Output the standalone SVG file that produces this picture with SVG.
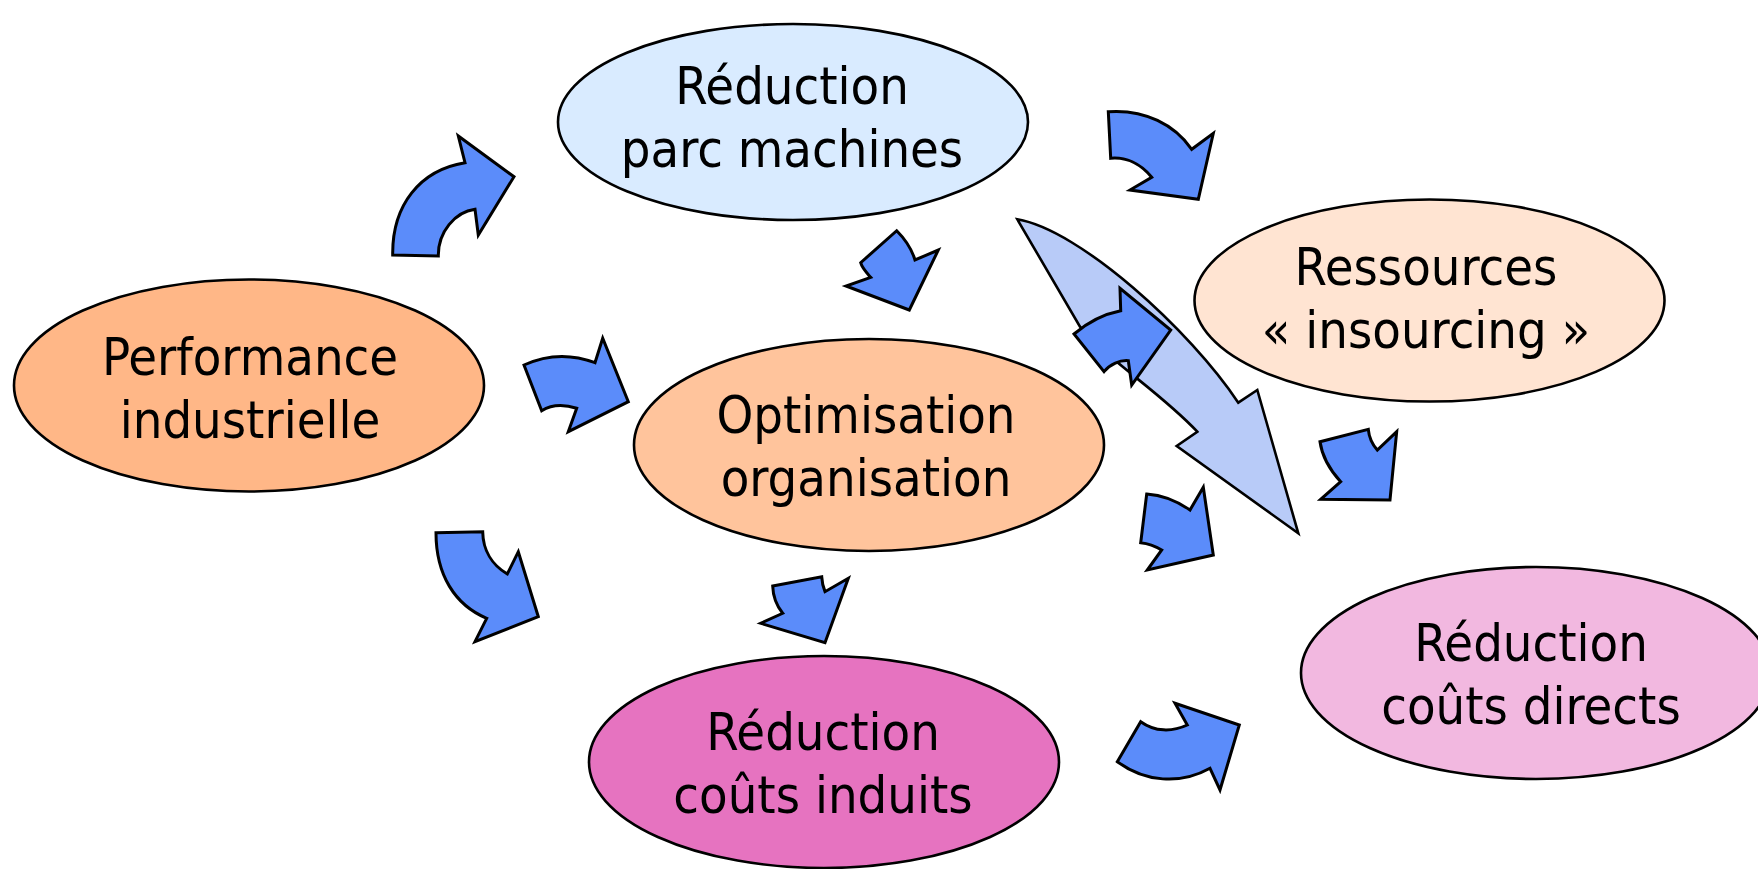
<svg xmlns="http://www.w3.org/2000/svg" width="1758" height="869" viewBox="0 0 1758 869">
  <style>
    .node { stroke: #000; stroke-width: 2.6; }
    .label { font-family: "DejaVu Sans Condensed", "DejaVu Sans", sans-serif; font-stretch: condensed; font-size: 52px; fill: #000; text-anchor: middle; }
    .arrow { fill: #5B8CFA; stroke: #000; stroke-width: 3; stroke-linejoin: miter; }
    .arrow-big { fill: #B8CBF8; stroke: #000; stroke-width: 2.6; stroke-linejoin: miter; }
  </style>
  <rect width="1758" height="869" fill="#fff"/>

  <g id="node-performance">
    <ellipse class="node" cx="249" cy="385.5" rx="235" ry="106" fill="#FFB787"/>
    <text class="label" x="250" y="375">Performance</text>
    <text class="label" x="250" y="438">industrielle</text>
  </g>

  <g id="node-parc-machines">
    <ellipse class="node" cx="793" cy="122" rx="235" ry="98" fill="#D9EBFF"/>
    <text class="label" x="792" y="104">Réduction</text>
    <text class="label" x="792" y="167">parc machines</text>
  </g>

  <g id="node-organisation">
    <ellipse class="node" cx="869" cy="445" rx="235" ry="106" fill="#FFC49C"/>
    <text class="label" x="866" y="433">Optimisation</text>
    <text class="label" x="866" y="496">organisation</text>
  </g>

  <g id="node-ressources">
    <ellipse class="node" cx="1429.5" cy="300.5" rx="235" ry="101" fill="#FFE4D2"/>
    <text class="label" x="1426" y="285">Ressources</text>
    <text class="label" x="1426" y="348">« insourcing »</text>
  </g>

  <g id="node-couts-induits">
    <ellipse class="node" cx="824" cy="762" rx="235" ry="106" fill="#E673C0"/>
    <text class="label" x="823" y="750">Réduction</text>
    <text class="label" x="823" y="813">coûts induits</text>
  </g>

  <g id="node-couts-directs">
    <ellipse class="node" cx="1536" cy="673" rx="235" ry="106" fill="#F2B8E0"/>
    <text class="label" x="1531" y="661">Réduction</text>
    <text class="label" x="1531" y="724">coûts directs</text>
  </g>

  <g id="connectors">
    <!-- wide pale arrow from parc machines down to coûts directs -->
    <path class="arrow-big" d="M1017.3,219.3 C1080,230 1190,330 1238.3,402.7 L1257.3,390 L1298.3,533.3 L1176.7,446 L1197.3,431.7 C1160,392 1110,362 1080,326.7 Z"/>
    <!-- performance -> parc machines -->
    <path class="arrow" d="M392.7,255 C392,205 420,170 465,162.7 L458.3,136 L514,176.7 L478.3,235 L475,209.3 C455,212 438,232 438.3,256 Z"/>
    <!-- parc machines -> ressources -->
    <path class="arrow" d="M1108.3,111.7 C1145,109 1175,125 1191.7,149.3 L1213.3,133.3 L1198.3,199.3 L1130,190 L1151.7,177.3 C1140,163 1125,157 1110.7,158.3 Z"/>
    <!-- parc machines -> organisation -->
    <path class="arrow" d="M896.7,230.7 C906,240 912,250 915,260 L938.3,250 L909.3,310 L846,286 L870.7,277.3 C866,272 862,268 860.7,262.7 Z"/>
    <!-- performance -> organisation -->
    <path class="arrow" d="M524,365 C548,354 572,354 595,362.7 L602.7,338.3 L628.3,401.7 L568.3,431.7 L576.7,408.3 C563,404 551,405 541.7,410.7 Z"/>
    <!-- performance -> coûts induits -->
    <path class="arrow" d="M436,532.7 L482.7,531.7 C483,550 492,565 507.3,574 L518.3,551.7 L538.3,616.7 L475,641.7 L486.7,618.3 C455,605 436,575 436,532.7 Z"/>
    <!-- organisation -> coûts induits -->
    <path class="arrow" d="M772.7,586 L821.7,576.7 C822,582 823,587 825,591.7 L848.3,578.3 L825,642.7 L760.7,623.3 L782.7,613.3 C776,605 773,596 772.7,586 Z"/>
    <!-- coûts induits -> coûts directs -->
    <path class="arrow" d="M1117.3,761.7 L1140.7,721.7 C1155,732 1172,732 1187.3,725 L1175,703.3 L1239.3,725 L1220,790 L1210,768.3 C1180,785 1145,782 1117.3,761.7 Z"/>
    <!-- ressources -> coûts directs -->
    <path class="arrow" d="M1320,441.7 L1368.3,429.3 C1369,437 1372,444 1377.3,450 L1396.7,431.7 L1390,500 L1320.7,499.3 L1340.7,481.7 C1330,470 1322,456 1320,441.7 Z"/>
    <!-- organisation -> coûts directs -->
    <path class="arrow" d="M1146.7,494 C1162,495 1177,501 1190,510 L1203.3,487.3 L1213.3,555 L1147.3,570 L1161.7,550 C1155,546 1148,543.5 1140.7,542.7 Z"/>
    <!-- organisation -> ressources -->
    <path class="arrow" d="M1074,334 C1088,322 1104,314 1120.7,310.7 L1120,288.3 L1170.7,330 L1131.7,385 L1128.3,360.7 C1120,360 1110,364 1104,371.7 Z"/>
  </g>
</svg>
